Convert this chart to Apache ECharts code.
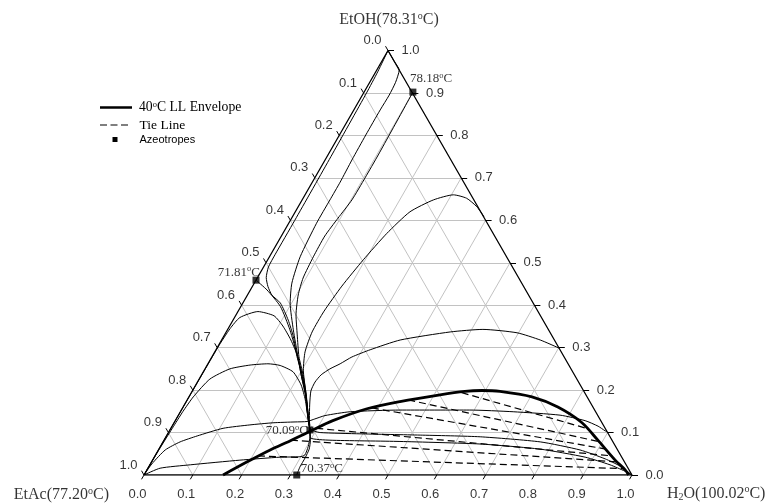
<!DOCTYPE html>
<html>
<head>
<meta charset="utf-8">
<script src="https://cdn.jsdelivr.net/npm/echarts@6/dist/echarts.min.js"></script>
<style>
  html, body { margin: 0; padding: 0; background: #fff; }
  #chart { width: 768px; height: 504px; }
</style>
</head>
<body>
<div id="chart"></div>
<script>
// all compositions are [x_H2O, x_EtOH] mole fractions (x_EtAc = 1 - both)
const tickValues = [0, 0.1, 0.2, 0.3, 0.4, 0.5, 0.6, 0.7, 0.8, 0.9, 1.0]
const tickText = ['0.0', '0.1', '0.2', '0.3', '0.4', '0.5', '0.6', '0.7', '0.8', '0.9', '1.0']

const envelope40C = [[0.162, 0], [0.196, 0.031], [0.229, 0.059], [0.259, 0.080], [0.289, 0.103], [0.323, 0.128],
  [0.379, 0.156], [0.438, 0.173], [0.512, 0.189], [0.559, 0.197], [0.593, 0.199], [0.631, 0.197], [0.703, 0.184],
  [0.768, 0.160], [0.836, 0.123], [0.889, 0.082], [0.948, 0.035], [0.980, 0.012], [0.993, 0]]

const tieLines = [
  [[0.554, 0.194], [0.848, 0.111]],
  [[0.453, 0.177], [0.896, 0.078]],
  [[0.388, 0.158], [0.916, 0.061]],
  [[0.298, 0.110], [0.937, 0.045]],
  [[0.260, 0.082], [0.954, 0.031]],
  [[0.211, 0.045], [0.974, 0.015]],
]

// residue curves
const curveEtOHEdge = [[0, 1], [0.025, 0.975], [0.046, 0.954], [0.053, 0.925], [0.055, 0.895], [0.054, 0.860],
  [0.054, 0.801], [0.055, 0.742], [0.057, 0.690], [0.057, 0.648], [0.057, 0.593], [0.063, 0.514], [0.077, 0.452],
  [0.097, 0.405], [0.135, 0.342], [0.176, 0.279], [0.206, 0.236], [0.237, 0.189], [0.265, 0.141], [0.287, 0.106]]
const curveLeftHug = [[0, 1], [0.004, 0.95], [0.006, 0.9], [0.008, 0.75], [0.009, 0.6], [0.009, 0.52], [0.010, 0.49],
  [0.018, 0.465], [0.032, 0.444], [0.050, 0.424], [0.077, 0.405], [0.113, 0.365], [0.143, 0.326], [0.174, 0.279],
  [0.206, 0.236], [0.237, 0.189], [0.265, 0.141], [0.287, 0.106]]
const sepEtAcEtOH = [[0, 0.459], [0.034, 0.436], [0.081, 0.397], [0.128, 0.342], [0.175, 0.279], [0.204, 0.236],
  [0.236, 0.189], [0.265, 0.141], [0.287, 0.106]]
const sepEtOHWater = [[0.100, 0.902], [0.101, 0.860], [0.102, 0.808], [0.103, 0.754], [0.103, 0.700],
  [0.102, 0.648], [0.095, 0.605], [0.089, 0.563], [0.090, 0.514], [0.094, 0.464], [0.104, 0.424], [0.123, 0.377],
  [0.149, 0.330], [0.178, 0.279], [0.208, 0.236], [0.238, 0.189], [0.266, 0.141], [0.287, 0.106]]
const curvePeak66 = [[0.392, 0.609], [0.366, 0.632], [0.335, 0.652], [0.304, 0.660], [0.269, 0.648],
  [0.235, 0.620], [0.213, 0.569], [0.196, 0.507], [0.183, 0.445], [0.176, 0.386], [0.176, 0.337], [0.185, 0.290],
  [0.203, 0.247], [0.231, 0.200], [0.262, 0.148], [0.287, 0.106]]
const curvePeak34 = [[0.701, 0.299], [0.653, 0.318], [0.597, 0.335], [0.523, 0.343], [0.459, 0.337],
  [0.366, 0.318], [0.316, 0.295], [0.287, 0.278], [0.271, 0.262], [0.256, 0.250], [0.245, 0.236], [0.241, 0.219],
  [0.243, 0.198], [0.257, 0.165], [0.272, 0.134], [0.287, 0.106]]
const curveAcPeak26 = [[0.287, 0.106], [0.269, 0.134], [0.242, 0.177], [0.216, 0.212], [0.184, 0.243],
  [0.150, 0.258], [0.123, 0.262], [0.088, 0.259], [0.051, 0.250], [0.022, 0.226], [0.009, 0.184], [0.005, 0.15],
  [0.003, 0.11], [0.001, 0.06], [0, 0]]
const curveAcPeak38 = [[0.287, 0.106], [0.266, 0.141], [0.237, 0.189], [0.204, 0.236], [0.178, 0.276],
  [0.142, 0.318], [0.109, 0.351], [0.079, 0.375], [0.041, 0.385], [0.011, 0.371], [0.004, 0.345], [0.001, 0.30],
  [0, 0]]
const curveAcross = [[0, 0], [0.003, 0.026], [0.014, 0.059], [0.035, 0.078], [0.063, 0.092], [0.107, 0.110],
  [0.158, 0.118], [0.203, 0.123], [0.247, 0.125], [0.271, 0.126], [0.284, 0.132], [0.301, 0.140], [0.348, 0.149],
  [0.448, 0.153], [0.591, 0.153], [0.682, 0.149], [0.782, 0.141], [0.840, 0.128], [0.873, 0.115], [0.893, 0.104],
  [0.898, 0.102]]
const curveAcLow = [[0.287, 0.106], [0.295, 0.090], [0.303, 0.067], [0.306, 0.047], [0.298, 0.043],
  [0.258, 0.042], [0.179, 0.035], [0.083, 0.024], [0.025, 0.016], [0, 0]]
const sepEtAcWater = [[0.287, 0.106], [0.300, 0.082], [0.308, 0.061], [0.310, 0.040], [0.310, 0.019], [0.313, 0]]
const curveWaterA = [[0.287, 0.106], [0.311, 0.100], [0.394, 0.097], [0.519, 0.094], [0.644, 0.090],
  [0.773, 0.078], [0.864, 0.059], [0.926, 0.038], [0.965, 0.021], [1, 0]]
const curveWaterB = [[0.287, 0.106], [0.298, 0.087], [0.340, 0.082], [0.485, 0.079], [0.652, 0.073],
  [0.781, 0.061], [0.883, 0.042], [0.943, 0.024], [0.981, 0.009], [1, 0]]

const azeotropes = [[0.100, 0.902], [0, 0.459], [0.287, 0.106], [0.313, 0]]
const azeoTemps = ['78.18', '71.81', '70.09', '70.37']
const pureNames = ['EtAc', 'EtOH', 'H2O']
const pureTemps = ['77.20', '78.31', '100.02']

const residueCurves = [curveEtOHEdge, curveLeftHug, sepEtAcEtOH, sepEtOHWater, curvePeak66, curvePeak34,
  curveAcPeak26, curveAcPeak38, curveAcross, curveAcLow, sepEtAcWater, curveWaterA, curveWaterB]

// ternary -> cartesian (x axis 0..1 along base, y axis = EtOH fraction)
function tern(p) { return [p[0] + p[1] / 2, p[1]] }

const SERIF = 'Liberation Serif'
const SANS = 'Liberation Sans'
const PX_X = 1 / 488, PX_Y = 1 / 424.5

const gridSegs = []
const tickSegs = []
tickValues.forEach((k) => {
  if (k > 0 && k < 1) {
    gridSegs.push({ coords: [tern([0, k]), tern([1 - k, k])] })
    gridSegs.push({ coords: [tern([k, 0]), tern([k, 1 - k])] })
    gridSegs.push({ coords: [tern([1 - k, 0]), tern([0, 1 - k])] })
  }
  // bottom (H2O), right (EtOH), left (EtAc)
  tickSegs.push({ coords: [[k, 0], [k - 2.5 * PX_X, -4.3 * PX_Y]] })
  tickSegs.push({ coords: [[1 - k / 2, k], [1 - k / 2 + 6 * PX_X, k]] })
  tickSegs.push({ coords: [[(1 - k) / 2, 1 - k], [(1 - k) / 2 - 2.5 * PX_X, 1 - k + 4.3 * PX_Y]] })
})

const richTemp = {
  n: { fontFamily: SERIF, fontSize: 13, color: '#000', lineHeight: 15 },
  s: { fontFamily: SERIF, fontSize: 8.5, color: '#000', verticalAlign: 'top', lineHeight: 15 },
}
const richVertex = {
  n: { fontFamily: SERIF, fontSize: 16, color: '#000', lineHeight: 18 },
  s: { fontFamily: SERIF, fontSize: 10, color: '#000', verticalAlign: 'top', lineHeight: 18 },
  b: { fontFamily: SERIF, fontSize: 10, color: '#000', verticalAlign: 'bottom', lineHeight: 18 },
}
function degText(t) { return '{n|' + t + '}{s|o}{n|C}' }

const azeoLabelPos = [
  { align: 'left', offset: [-3, -13.5] },
  { align: 'right', offset: [4, -8] },
  { align: 'right', offset: [-2, 1] },
  { align: 'left', offset: [4, -6] },
]

function tickLabelData(side) {
  return tickValues.map((k, i) => {
    let value, label
    if (side === 'bottom') {
      value = [k, 0]; label = { align: 'center', offset: [-6.5, 19] }
    } else if (side === 'right') {
      value = [1 - k / 2, k]; label = { align: 'left', offset: [13.5, 0] }
    } else {
      value = [(1 - k) / 2, 1 - k]; label = { align: 'right', offset: [-6.5, -10] }
    }
    return { value, name: tickText[i], label }
  })
}

const pureLabels = [
  { value: [0, 0], name: '{n|' + pureNames[0] + '(' + pureTemps[0] + '}{s|o}{n|C)}', label: { align: 'right', offset: [-35, 20] } },
  { value: [0.5, 1], name: '{n|' + pureNames[1] + '(' + pureTemps[1] + '}{s|o}{n|C)}', label: { align: 'center', offset: [1, -30.5] } },
  { value: [1, 0], name: '{n|H}{b|2}{n|O(' + pureTemps[2] + '}{s|o}{n|C)}', label: { align: 'left', offset: [35, 18.5] } },
]

function labelSeries(data, rich, font) {
  return {
    type: 'scatter',
    data,
    symbolSize: 1,
    itemStyle: { color: 'rgba(0,0,0,0)' },
    silent: true,
    clip: false,
    z: 10,
    label: {
      show: true,
      position: 'inside',
      verticalAlign: 'middle',
      formatter: (p) => p.name,
      color: '#000',
      fontFamily: font || SANS,
      fontSize: 13,
      rich,
    },
  }
}

const series = []
series.push({
  type: 'lines', coordinateSystem: 'cartesian2d', silent: true, z: 1,
  data: gridSegs, lineStyle: { color: '#c2c2c2', width: 1, opacity: 1 },
})
series.push({
  type: 'line', data: [[0, 0], [1, 0], [0.5, 1], [0, 0]], symbol: 'none', silent: true, z: 3,
  lineStyle: { color: '#000', width: 1.3 },
})
series.push({
  type: 'lines', coordinateSystem: 'cartesian2d', silent: true, z: 3, clip: false,
  data: tickSegs, lineStyle: { color: '#000', width: 1, opacity: 1 },
})
residueCurves.forEach((c) => {
  series.push({
    type: 'line', data: c.map(tern), symbol: 'none', smooth: 0.2, silent: true, z: 4, clip: false,
    lineStyle: { color: '#000', width: 1 },
  })
})
series.push({
  type: 'lines', coordinateSystem: 'cartesian2d', silent: true, z: 5,
  data: tieLines.map((t) => ({ coords: t.map(tern) })),
  lineStyle: { color: '#000', width: 1.2, type: [7, 4], opacity: 1 },
})
series.push({
  type: 'line', data: envelope40C.map(tern), symbol: 'none', smooth: 0.3, silent: true, z: 6, clip: false,
  lineStyle: { color: '#000', width: 2.8 },
})
series.push({
  type: 'scatter', data: azeotropes.map(tern), symbol: 'rect', symbolSize: 7, silent: true, z: 8, clip: false,
  itemStyle: { color: '#000' },
})
series.push(labelSeries(azeotropes.map((a, i) => ({
  value: tern(a), name: degText(azeoTemps[i]), label: azeoLabelPos[i],
})), richTemp, SERIF))
series.push(labelSeries(tickLabelData('bottom')))
series.push(labelSeries(tickLabelData('right')))
series.push(labelSeries(tickLabelData('left')))
series.push(labelSeries(pureLabels, richVertex, SERIF))

const chart = echarts.init(document.getElementById('chart'), null, { renderer: 'canvas' })
chart.setOption({
  animation: false,
  backgroundColor: '#fff',
  grid: { left: 144, top: 50.5, width: 488, height: 424.5 },
  xAxis: { type: 'value', min: 0, max: 1, show: false },
  yAxis: { type: 'value', min: 0, max: 1, show: false },
  graphic: [
    { type: 'line', shape: { x1: 100, y1: 107.5, x2: 132, y2: 107.5 }, style: { stroke: '#000', lineWidth: 2.5 } },
    {
      type: 'text', x: 139, y: 107.5,
      style: {
        text: '{n|40}{s|o}{n|C LL Envelope}', verticalAlign: 'middle',
        rich: {
          n: { fontFamily: SERIF, fontSize: 13.7, fill: '#000', lineHeight: 15 },
          s: { fontFamily: SERIF, fontSize: 8.5, fill: '#000', verticalAlign: 'top', lineHeight: 15 },
        },
      },
    },
    { type: 'line', shape: { x1: 100, y1: 125, x2: 130, y2: 125 }, style: { stroke: '#000', lineWidth: 1.2, lineDash: [7, 3.5] } },
    { type: 'text', x: 139.5, y: 125, style: { text: 'Tie Line', font: '13.5px "Liberation Serif"', fill: '#000', verticalAlign: 'middle' } },
    { type: 'rect', shape: { x: 112.5, y: 137, width: 5, height: 5 }, style: { fill: '#000' } },
    { type: 'text', x: 139.5, y: 139.5, style: { text: 'Azeotropes', font: '11px "Liberation Sans"', fill: '#000', verticalAlign: 'middle' } },
  ],
  series,
})
</script>
</body>
</html>
